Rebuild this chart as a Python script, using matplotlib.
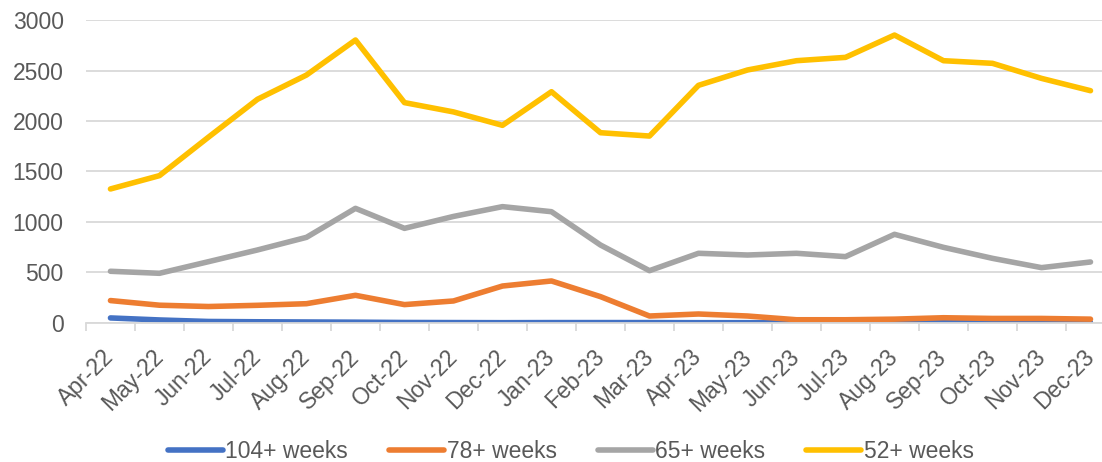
import matplotlib.pyplot as plt

plt.rcParams['font.family'] = ['Liberation Sans', 'DejaVu Sans']

months = ['Apr-22', 'May-22', 'Jun-22', 'Jul-22', 'Aug-22', 'Sep-22', 'Oct-22',
          'Nov-22', 'Dec-22', 'Jan-23', 'Feb-23', 'Mar-23', 'Apr-23', 'May-23',
          'Jun-23', 'Jul-23', 'Aug-23', 'Sep-23', 'Oct-23', 'Nov-23', 'Dec-23']

weeks_104 = [50, 30, 15, 12, 10, 8, 5, 4, 3, 4, 4, 4, 3, 3, 2, 2, 3, 5, 4, 3, 3]
weeks_78 = [222, 176, 163, 175, 191, 274, 182, 218, 366, 416, 261, 69,
            89, 69, 32, 32, 38, 52, 45, 45, 38]
weeks_65 = [512, 492, 607, 723, 848, 1135, 937, 1055, 1152, 1102, 772, 518,
            690, 673, 690, 657, 878, 749, 640, 548, 604]
weeks_52 = [1327, 1459, 1840, 2215, 2455, 2802, 2182, 2090, 1957, 2290, 1884, 1851,
            2353, 2505, 2597, 2630, 2851, 2597, 2571, 2422, 2300]

series = [('104+ weeks', weeks_104, '#4472C4'),
          ('78+ weeks', weeks_78, '#ED7D31'),
          ('65+ weeks', weeks_65, '#A5A5A5'),
          ('52+ weeks', weeks_52, '#FFC000')]

fig = plt.figure(figsize=(11.02, 4.62), dpi=100)
ax = fig.add_axes([0.078, 0.3009, 0.9338, 0.6558])

x = range(len(months))
for name, vals, color in series:
    ax.plot(x, vals, color=color, lw=4, label=name, solid_capstyle='round')

ax.set_xlim(-0.5, len(months) - 0.5)
ax.set_ylim(0, 3000)
ax.set_yticks(range(0, 3001, 500))
ax.grid(axis='y', color='#D9D9D9', lw=1.3)
ax.set_axisbelow(True)

# category ticks sit between the points
ax.set_xticks([i - 0.5 for i in x], minor=True)
ax.set_xticks(list(x))
ax.set_xticklabels(months, rotation=45, ha='right', va='center',
                   rotation_mode='anchor')
ax.tick_params(axis='x', which='major', length=0, pad=22,
               labelsize=16.5, labelcolor='#595959')
ax.tick_params(axis='x', which='minor', length=6, color='#D9D9D9', width=1.3)
ax.tick_params(axis='y', length=0, pad=16, labelsize=16.5, labelcolor='#595959')

for side in ['top', 'right', 'left']:
    ax.spines[side].set_visible(False)
ax.spines['bottom'].set_color('#D9D9D9')
ax.spines['bottom'].set_linewidth(1.3)

fig.legend(loc='center', bbox_to_anchor=(0.518, 0.022), ncol=4, frameon=False,
           fontsize=16.5, labelcolor='#595959', handlelength=2.4,
           handletextpad=0.1, columnspacing=1.8)

fig.savefig('out.png', dpi=100)
